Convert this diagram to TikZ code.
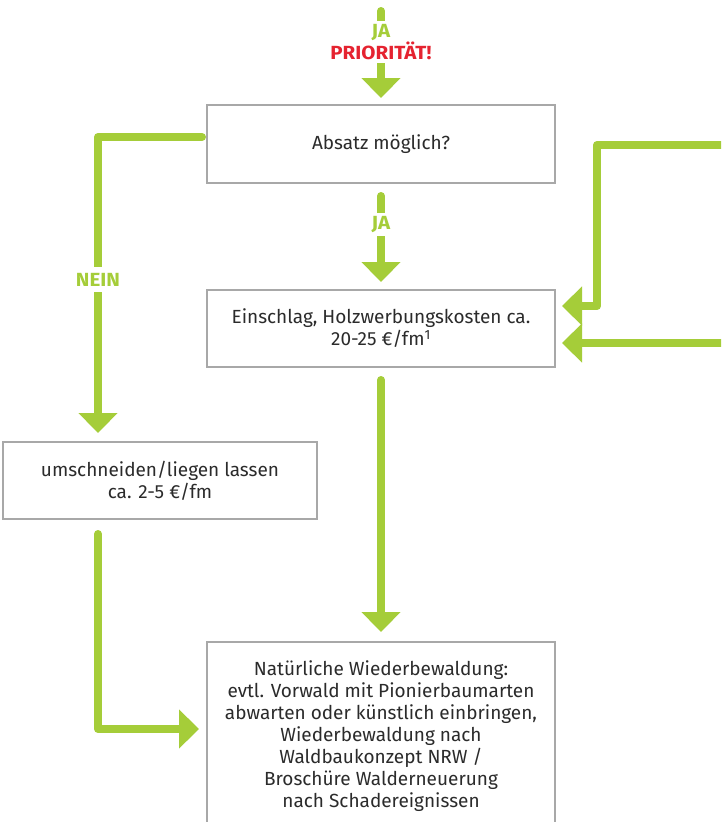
\documentclass[tikz,border=0pt]{standalone}
\usepackage{fontspec}
\setmainfont{Fira Sans}
\newfontfamily\lblfont{Fira Sans}[FakeStretch=1.08]
\usetikzlibrary{positioning,arrows.meta}
\definecolor{leaf}{HTML}{A5CD39}
\definecolor{prio}{HTML}{E52330}
\definecolor{frame}{HTML}{A8A8A8}
\definecolor{ink}{HTML}{2B2B2B}

\begin{document}
\begin{tikzpicture}[
    x=1pt, y=-1pt,
    node distance=107pt,
 box/.style = {
        draw=frame, line width=1.4pt, rectangle, align=center,
        minimum width=348pt, minimum height=78pt,
        font=\fontsize{19}{22}\selectfont, text=ink,
        inner sep=6pt, outer sep=0pt},
 boxS/.style = {box, minimum width=314pt, minimum height=77pt},
 lbl/.style = {
        fill=white, text=leaf, inner sep=0pt, align=center,
        font=\lblfont\fontsize{19}{19}\selectfont\bfseries},
 arrow/.style = {line width=8pt, draw=leaf, line cap=round, line join=round,
        -{Triangle[width=38pt,length=20pt]}}
                    ]
\useasboundingbox (0,0) rectangle (721,822);
\clip (0,0) rectangle (721,822);
\fill[white] (0,0) rectangle (721,822);

% the boxes
\node (a) [box] at (381,144) {Absatz möglich?};
\node (b) [box, minimum height=77pt, below=of a]
        {Einschlag, Holzwerbungskosten ca.\\ 20-25~€/fm\textsuperscript{1}};
\node (c) [boxS, anchor=north west] at (3,442)
        {umschneiden/liegen lassen\\ ca. 2-5~€/fm};
\node (d) [box, minimum height=188pt, below=275pt of b]
        {Natürliche Wiederbewaldung:\\
evtl. Vorwald mit Pionierbaumarten\\
abwarten oder künstlich einbringen,\\
Wiederbewaldung nach\\
Waldbaukonzept NRW /\\
Broschüre Walderneuerung\\
nach Schadereignissen};

% corners and loose ends
\coordinate (top)   at (381,11);
\coordinate (bendN) at (98,137);
\coordinate (bendR) at (597,145);
\coordinate (inU)   at (740,145);
\coordinate (inL)   at (740,343);

% the chain in the center
\draw[arrow, shorten >=7pt] (top) --
        node[lbl, pos=0.33, minimum height=42pt]
        {JA\\ \textcolor{prio}{PRIORITÄT!}} (a);
\draw[arrow, shorten <=13pt, shorten >=8pt] (a) --
        node[lbl, pos=0.39, minimum height=23pt] {JA} (b);
\draw[arrow, shorten <=13pt, shorten >=10pt] (b) -- (d);
% the branch to the left
\draw[arrow, shorten <=5pt, shorten >=9pt] ([yshift=7pt]a.west) -- (bendN) --
        node[lbl, pos=0.467, minimum height=25pt] {NEIN} (bendN |- c.north);
\draw[arrow, shorten <=15pt, shorten >=8pt] (bendN |- c.south) |- ([yshift=7pt]d.west);
% the loops coming in from the right
\draw[arrow, shorten >=7pt] (inU) -- (bendR) |- ([yshift=22.5pt]b.east);
\draw[arrow, shorten >=7pt] (inL) -- ([yshift=-14.5pt]b.east);
\end{tikzpicture}
\end{document}
